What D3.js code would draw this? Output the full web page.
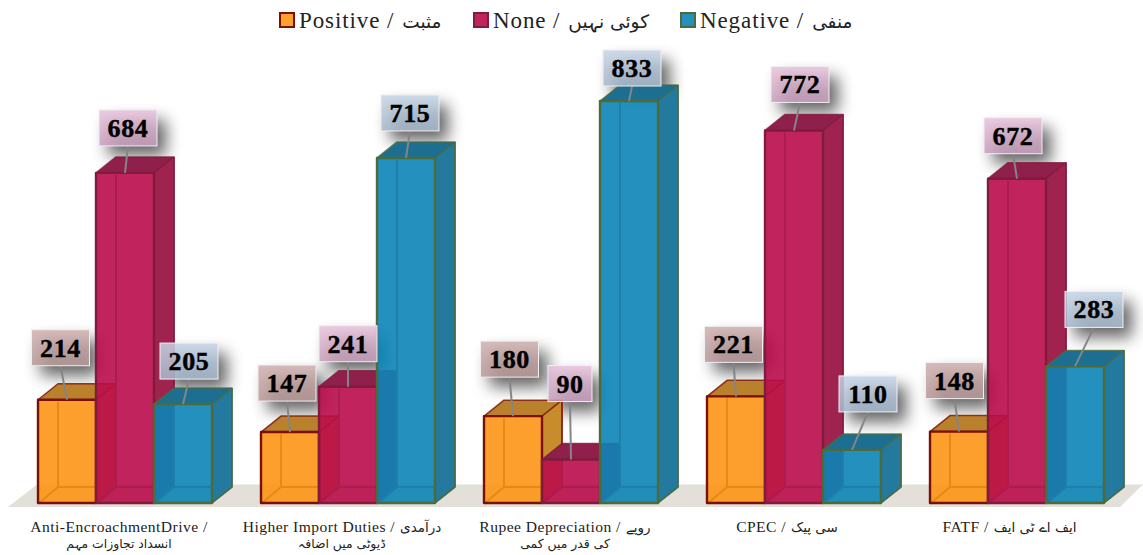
<!DOCTYPE html>
<html><head><meta charset="utf-8">
<script src="https://cdn.jsdelivr.net/npm/d3@7"></script>
<style>html,body{margin:0;background:#fff}svg{display:block}
text{font-family:"Liberation Serif","DejaVu Sans",serif;direction:ltr}
.ur{font-family:"DejaVu Sans"}</style></head>
<body><script>
const categories = ["Anti-EncroachmentDrive","Higher Import Duties","Rupee Depreciation","CPEC","FATF"];
const categoryLatin = ["Anti-EncroachmentDrive /","Higher Import Duties /","Rupee Depreciation /","CPEC /","FATF /"];
const categoryUrdu1 = ["","درآمدی","روپے","سی پیک","ایف اے ٹی ایف"];
const categoryUrdu2 = ["انسداد تجاوزات مہم","ڈیوٹی میں اضافہ","کی قدر میں کمی","",""];
const seriesLatin = ["Positive /","None /","Negative /"];
const seriesUrdu = ["مثبت","کوئی نہیں","منفی"];
const positive = [214,147,180,221,148];
const none = [684,241,90,772,672];
const negative = [205,715,833,110,283];
const seriesValues = [positive,none,negative];
const swatches = ["#fca02c","#c1245c","#2490bd"];
const fronts = ["#fc9515","#ba0c4a","#0c84b6"];
const tops = ["#b9812b","#8f1f4b","#1d6f91"];
const sides = ["#c98c2c","#a0234f","#24799f"];
const strokes = ["#7c0f04","#7f1b3c","#4c6a3a"];
const inner = ["#e58a16","#ab1c4f","#1f7fa8"];
const boxTop = ["#cfb0b0","#e8c3dc","#c6d5e6"];
const boxBottom = ["#b99a9a","#c99fbd","#a7bace"];
// label placement relative to each bar: horizontal shift, gap above the bar
const labelShift = [[-6.5,-3,-3.5,-2.5,-4.5],[3,0,-1,6,-4],[6,4,3,16,19]];
const labelGap = [[34,31,39,34,33],[27,25,58,28,25],[25,27,15,38,39]];
const tickShift = [81,81,81,80,79.5];

const W=1143,H=555,dx=20,dy=-16,boxH=36;
const svg=d3.select("body").append("svg").attr("width",W).attr("height",H);
const defs=svg.append("defs");
const blur=defs.append("filter").attr("id","sh").attr("x","-60%").attr("y","-80%").attr("width","220%").attr("height","260%");
blur.append("feGaussianBlur").attr("stdDeviation",8);
seriesLatin.forEach((s,i)=>{
  const g=defs.append("linearGradient").attr("id","lb"+i).attr("x1",0).attr("y1",0).attr("x2",0).attr("y2",1);
  g.append("stop").attr("offset",0).attr("stop-color",boxTop[i]);
  g.append("stop").attr("offset",1).attr("stop-color",boxBottom[i]);
});
const x=d3.scaleBand().domain(categories).range([38,38+5*223]).paddingInner(0).paddingOuter(0).align(0);
const xs=d3.scaleBand().domain(d3.range(3)).range([0,174]);
const y=d3.scaleLinear().domain([0,1000]).range([503,20.4]);
const base=y(0), bw=xs.bandwidth();
// floor
svg.append("polygon").attr("fill","#e2e0d8")
  .attr("points",[[8,507],[37,484.5],[1143,484.5],[1120,507]].join(" "));
const P=a=>a.map(p=>p.join(",")).join(" ");
const labelShadows=svg.append("g");
const marks=svg.append("g");
const overBars=svg.append("g");
categories.forEach((c,ci)=>{
  seriesValues.forEach((vals,si)=>{
    const v=vals[ci],x0=x(c)+xs(si),x1=x0+bw,t=y(v),g=marks.append("g");
    g.append("polygon").attr("points",P([[x1,t],[x1+dx,t+dy],[x1+dx,base+dy],[x1,base]])).attr("fill",sides[si]).attr("stroke",sides[si]);
    g.append("polygon").attr("points",P([[x0,t],[x1,t],[x1+dx,t+dy],[x0+dx,t+dy]])).attr("fill",tops[si]).attr("stroke",strokes[si]).attr("stroke-width",1.5).attr("stroke-opacity",.8).attr("stroke-linejoin","round");
    g.append("rect").attr("x",x0).attr("y",t).attr("width",bw).attr("height",base-t).attr("fill",fronts[si]).attr("fill-opacity",.9);
    g.append("path").attr("fill","none").attr("stroke",inner[si]).attr("stroke-width",2)
      .attr("d",`M${x0+dx},${t+2}V${base+dy}H${x1-1}M${x0+1},${base}L${x0+dx},${base+dy}`);
    g.append("rect").attr("x",x0).attr("y",t).attr("width",bw).attr("height",base-t).attr("fill","none").attr("stroke",strokes[si]).attr("stroke-width",2.4).attr("stroke-linejoin","round");
    g.append("path").attr("fill","none").attr("stroke",strokes[si]).attr("stroke-width",1.6)
      .attr("d",`M${x1},${base}L${x1+dx},${base+dy}V${t+dy}`);
  });
});
// value labels
categories.forEach((c,ci)=>{
  seriesValues.forEach((vals,si)=>{
    const v=vals[ci],t=y(v),cx=x(c)+xs(si)+bw/2;
    const lx=cx+labelShift[si][ci],bottom=t-labelGap[si][ci],w=String(v).length<3?44:58;
    labelShadows.append("rect").attr("x",lx-w/2+9).attr("y",bottom-boxH+10).attr("width",w).attr("height",boxH).attr("fill","#000").attr("opacity",.6).attr("filter","url(#sh)");
    const g=overBars.append("g");
    g.append("line").attr("x1",lx).attr("y1",bottom).attr("x2",cx).attr("y2",t).attr("stroke","#858585").attr("stroke-width",2);
    g.append("rect").attr("x",lx-w/2).attr("y",bottom-boxH).attr("width",w).attr("height",boxH).attr("fill",`url(#lb${si})`).attr("fill-opacity",.86).attr("stroke","#f1eef2").attr("stroke-width",1);
    g.append("text").attr("x",lx).attr("y",bottom-9).attr("text-anchor","middle").attr("font-size",26).attr("font-weight",700).attr("letter-spacing",.6).attr("stroke","#000").attr("stroke-width",.4).attr("fill","#000").text(v);
  });
});
// category axis
const axis=d3.axisBottom(x).tickSize(0).tickFormat(()=>"");
const ag=svg.append("g").attr("transform","translate(0,515)").call(axis);
ag.select(".domain").remove();
ag.selectAll(".tick").each(function(c,i){
  const n=d3.select(this);
  n.attr("transform",`translate(${x(c)+tickShift[i]},0)`);
  n.select("text").remove();
  const t=n.append("text").attr("y",17).attr("text-anchor","middle").attr("font-size",15.6).attr("letter-spacing",.45).attr("fill","#222").text(categoryLatin[i]);
  if(categoryUrdu1[i]) t.append("tspan").attr("class","ur").attr("dx",5).attr("font-size",13.5).attr("letter-spacing",0).text(categoryUrdu1[i]);
  if(categoryUrdu2[i]) n.append("text").attr("class","ur").attr("y",33).attr("text-anchor","middle").attr("font-size",12.4).attr("fill","#222").text(categoryUrdu2[i]);
});
// legend
const legendX=d3.scaleOrdinal().domain(seriesLatin).range([280,474,681]);
seriesLatin.forEach((s,i)=>{
  const g=svg.append("g").attr("transform",`translate(${legendX(s)},13)`);
  g.append("rect").attr("x",0).attr("y",0).attr("width",14).attr("height",14).attr("fill",swatches[i]).attr("stroke",strokes[i]).attr("stroke-width",2);
  const t=g.append("text").attr("x",19).attr("y",15).attr("font-size",23).attr("letter-spacing",.9).attr("fill","#222").text(s);
  t.append("tspan").attr("class","ur").attr("dx",8).attr("font-size",18.5).attr("letter-spacing",0).text(seriesUrdu[i]);
});
</script></body></html>
